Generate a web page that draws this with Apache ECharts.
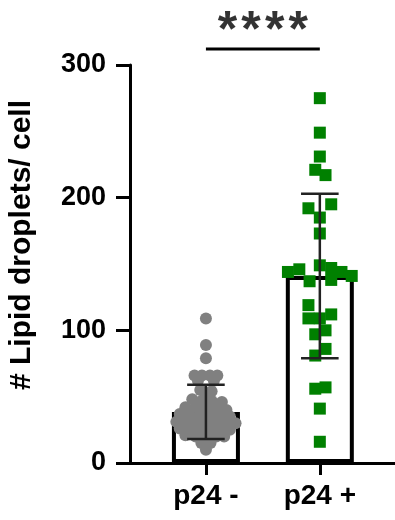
<!DOCTYPE html>
<html>
<head>
<meta charset="utf-8">
<script src="https://cdn.jsdelivr.net/npm/echarts@6/dist/echarts.min.js"></script>
<style>
  html, body { margin: 0; padding: 0; background: #fff; }
  #chart { width: 395px; height: 520px; }
</style>
</head>
<body>
<div id="chart"></div>
<script>
  const groups = ["p24 -", "p24 +"];
  const means = [38.5, 141];
  const sds = [20.5, 62];
  const yTicks = [0, 100, 200, 300];

  // p24 - cells (grey circles); offsets are the horizontal scatter in category widths
  const negValues = [109, 89, 79,
    66, 66, 66, 66, 62, 62, 55, 54, 52,
    48, 47, 47, 46, 42, 42, 41, 41, 40,
    37, 36, 36, 36, 35, 35,
    31, 31, 30, 30, 30, 30, 30,
    26, 26, 25, 25, 25, 25,
    21, 20, 20, 20, 20, 15, 15, 10];
  const negOffsets = [0, 0, 0,
    -0.1, -0.035, 0.035, 0.1, -0.07, 0.07, -0.05, 0.05, 0,
    -0.12, -0.035, 0.05, 0.14, -0.18, -0.09, 0, 0.09, 0.18,
    -0.23, -0.14, -0.05, 0.035, 0.12, 0.21,
    -0.26, -0.18, -0.09, 0, 0.09, 0.18, 0.26,
    -0.23, -0.14, -0.05, 0.035, 0.12, 0.21,
    -0.18, -0.09, 0, 0.09, 0.16, -0.04, 0.04, 0];

  // p24 + cells (green squares)
  const posValues = [275, 249, 231, 221, 217, 195, 192, 185, 173,
    149, 147, 146, 144, 144, 141, 138, 137,
    119, 112, 109, 109, 100, 97, 86, 81, 57, 56, 41, 16];
  const posOffsets = [0, 0, 0, -0.04, 0.05, 0.1, -0.1, 0, 0,
    0, 0.1, -0.18, -0.28, 0.19, 0.28, 0.1, -0.09,
    -0.1, 0.1, -0.1, 0, 0.05, -0.04, 0.05, -0.04, 0.05, -0.04, 0, 0];

  const sigLabel = "*\u200A*\u200A*\u200A*";
  const sigLineY = 312;
  const sigTextY = 325;

  const font = "Liberation Sans, Arial, Helvetica, sans-serif";
  const chart = echarts.init(document.getElementById("chart"));

  const negPoints = negValues.map((v, i) => [1 + negOffsets[i], v]);
  const posPoints = posValues.map((v, i) => [2 + posOffsets[i], v]);

  chart.setOption({
    animation: false,
    grid: { left: 130, right: 0, top: 65, bottom: 57, outerBoundsMode: "none" },
    xAxis: {
      type: "value", min: 1 / 3, max: 2.66,
      axisLine: { lineStyle: { color: "#000", width: 3 } },
      axisTick: { show: true, customValues: [1, 2], length: 12, lineStyle: { color: "#000", width: 3 } },
      axisLabel: {
        customValues: [1, 2], margin: 19,
        formatter: (v) => groups[Math.round(v) - 1],
        color: "#000", fontSize: 28, fontWeight: "bold", fontFamily: font
      },
      splitLine: { show: false }
    },
    yAxis: {
      type: "value", min: yTicks[0], max: yTicks[yTicks.length - 1], interval: 100,
      name: "# Lipid droplets/ cell", nameLocation: "middle", nameGap: 93, nameRotate: 90,
      nameTextStyle: { color: "#000", fontSize: 30, fontWeight: "bold", fontFamily: font, padding: [0, 0, 0, 38] },
      axisLine: { show: true, lineStyle: { color: "#000", width: 3 } },
      axisTick: { show: true, length: 14, lineStyle: { color: "#000", width: 3 } },
      axisLabel: { margin: 24, color: "#000", fontSize: 27, fontWeight: "bold", fontFamily: font },
      splitLine: { show: false }
    },
    series: [
      {
        type: "bar", data: means.map((m, i) => [i + 1, m]), barWidth: 68, z: 1,
        itemStyle: { color: "#fff", borderColor: "#000", borderWidth: 4 }
      },
      {
        type: "scatter", data: negPoints, symbol: "circle", symbolSize: 12, z: 3,
        itemStyle: { color: "#808080", opacity: 1 }
      },
      {
        type: "scatter", data: posPoints, symbol: "rect", symbolSize: 12, z: 3,
        itemStyle: { color: "#008000", opacity: 1 }
      },
      {
        type: "custom", z: 5,
        data: means.map((m, i) => [i + 1, m, sds[i]]),
        renderItem: (params, api) => {
          const x = api.value(0), m = api.value(1), sd = api.value(2);
          const hi = api.coord([x, m + sd]);
          const lo = api.coord([x, m - sd]);
          const half = api.size([0.165, 0])[0];
          const style = { stroke: "#222", lineWidth: 2.5 };
          return {
            type: "group",
            children: [
              { type: "line", shape: { x1: hi[0], y1: hi[1], x2: lo[0], y2: lo[1] }, style },
              { type: "line", shape: { x1: hi[0] - half, y1: hi[1], x2: hi[0] + half, y2: hi[1] }, style },
              { type: "line", shape: { x1: lo[0] - half, y1: lo[1], x2: lo[0] + half, y2: lo[1] }, style }
            ]
          };
        }
      },
      {
        type: "line", data: [[1, sigLineY], [2, sigLineY]], clip: false, symbol: "none",
        lineStyle: { color: "#000", width: 3 }, z: 5
      },
      {
        type: "scatter", data: [[1.5, sigTextY]], clip: false, symbolSize: 0, z: 5,
        label: {
          show: true, position: "inside", formatter: sigLabel,
          color: "#000", fontSize: 50, fontWeight: "bold", fontFamily: font
        }
      }
    ]
  });
</script>
</body>
</html>
